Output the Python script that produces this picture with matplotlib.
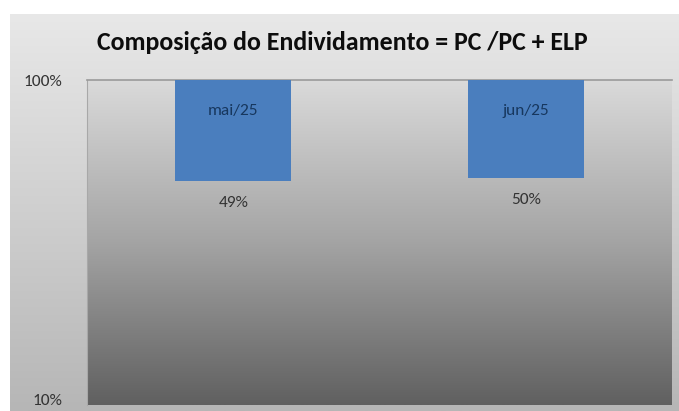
import numpy as np
import matplotlib
matplotlib.use("Agg")
import matplotlib.pyplot as plt
import matplotlib.ticker as mticker
from matplotlib.colors import LinearSegmentedColormap
from matplotlib.transforms import blended_transform_factory
from matplotlib import font_manager

# data
categories = ["mai/25", "jun/25"]
values = [0.49, 0.50]
value_labels = ["49%", "50%"]
ytick_vals = [0.1, 1.0]
ytick_labels = ["10%", "100%"]
title = "Composição do Endividamento = PC /PC + ELP"

names = {f.name for f in font_manager.fontManager.ttflist}
main_font = "Carlito" if "Carlito" in names else "Lato"
plt.rcParams['font.family'] = [main_font, 'DejaVu Sans']

W, H = 679, 411
fig = plt.figure(figsize=(W / 100, H / 100), dpi=100)
fig.patch.set_facecolor("white")

def px(x0, y0, x1, y1):
    return [x0 / W, 1 - y1 / H, (x1 - x0) / W, (y1 - y0) / H]

grad = np.linspace(0, 1, 256).reshape(-1, 1)

# outer chart area with light gradient
bg_ax = fig.add_axes(px(10, 14, 679, 411))
bg_cmap = LinearSegmentedColormap.from_list("bg", ["#e8e8e8", "#b6b6b6"])
bg_ax.imshow(grad, aspect="auto", cmap=bg_cmap, extent=[0, 1, 0, 1], origin="upper")
bg_ax.set_axis_off()

# plot area gradient
pa_ax = fig.add_axes(px(87, 80, 672, 405))
pa_cmap = LinearSegmentedColormap.from_list("pa", ["#dadada", "#a4a4a4", "#606060"])
pa_ax.imshow(grad, aspect="auto", cmap=pa_cmap, extent=[0, 1, 0, 1], origin="upper")
pa_ax.set_axis_off()

ax = fig.add_axes(px(87, 80, 672, 405))
ax.set_facecolor("none")
ax.set_yscale("log")
ax.set_ylim(0.1, 1.0)
x = np.arange(len(categories))
ax.set_xlim(-0.5, len(categories) - 0.5)

heights = [v - 1.0 for v in values]
ax.bar(x, heights, bottom=1.0, width=0.395, color="#4a7ebe", zorder=3)

trans = blended_transform_factory(ax.transData, ax.transAxes)
for xi, cat in zip(x, categories):
    ax.text(xi, 0.905, cat, transform=trans, ha="center", va="center",
            fontsize=12.5, color="#17375e", zorder=4)
for xi, v, lab in zip(x, values, value_labels):
    ax.annotate(lab, (xi, v), xytext=(0, -16), textcoords="offset points",
                ha="center", va="center", fontsize=12.5, color="#333333", zorder=4)

ax.set_yticks(ytick_vals)
ax.set_yticklabels(ytick_labels, fontsize=12.5, color="#333333")
ax.yaxis.set_minor_locator(mticker.NullLocator())
ax.tick_params(axis="y", length=0, pad=18)
ax.set_xticks([])
# keep the bottom label inside the figure
ax.get_yticklabels()[0].set_va("baseline")
for s in ["right", "bottom"]:
    ax.spines[s].set_visible(False)
ax.spines["top"].set_color("#9a9a9a")
ax.spines["left"].set_color("#a8a8a8")
ax.spines["top"].set_linewidth(1.2)

t = fig.text(342 / W, 1 - 42 / H, title, ha="center", va="center",
             fontsize=20, fontweight="bold", color="#0d0d0d")
# fit the title to the reference width (about 491 px)
r = fig.canvas.get_renderer()
w = t.get_window_extent(r).width
t.set_fontsize(20 * 491 / w)

fig.savefig("out.png", dpi=100)
